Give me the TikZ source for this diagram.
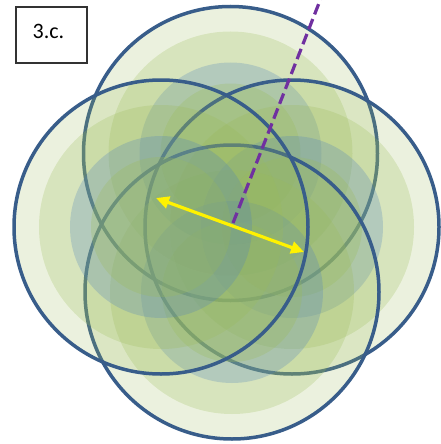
\documentclass[tikz,border=0pt]{standalone}
\usepackage{fontspec}
\newfontfamily\labelfont{Carlito}
\usetikzlibrary{arrows.meta}
\definecolor{ringgreen}{HTML}{9BBB59}
\definecolor{ringblue}{HTML}{4F81BD}
\definecolor{edgeblue}{HTML}{385D8A}
\definecolor{dashpurple}{HTML}{7030A0}
\tikzset{
  edge/.style={draw=edgeblue, line width=3.5pt},
  bandA/.style={fill=ringgreen, fill opacity=0.2},
  bandB/.style={fill=ringgreen, fill opacity=0.25},
  bandC/.style={fill=ringblue, fill opacity=0.26},
  bandD/.style={fill=ringgreen, fill opacity=0.28},
  spanarrow/.style={draw=yellow, line width=3.2pt, {Triangle[length=13pt,width=12pt]}-{Triangle[length=13pt,width=12pt]}},
  radialdash/.style={draw=dashpurple, line width=3.2pt, dash pattern=on 11pt off 5pt},
  tagbox/.style={draw=black!80, line width=1.2pt, minimum width=71pt, minimum height=56pt, inner sep=0pt},
}
\newcommand\bubble[2]{%
  \path[bandA] (#1,#2) circle[radius=147pt];
  \path[bandB] (#1,#2) circle[radius=122pt];
  \path[bandC] (#1,#2) circle[radius=91pt];
  \path[bandD] (#1,#2) circle[radius=70pt];
  \path[edge] (#1,#2) circle[radius=147pt];
}
\begin{document}
\begin{tikzpicture}[x=1pt,y=-1pt]
\useasboundingbox (0,0) rectangle (441,444);
\bubble{230.5}{153.5}
\bubble{292}{227}
\bubble{232}{292}
\bubble{161}{227}
\coordinate (hub) at (233,223);
\coordinate (topend) at (321,-2);
\coordinate (arrL) at (156,198);
\coordinate (arrR) at (304,252);
\path[radialdash] (hub) -- (topend);
\path[spanarrow] (arrL) -- (arrR);
\node[tagbox] (tag) at (51.5,35) {};
\node[font=\labelfont\fontsize{22}{26}\selectfont, inner sep=0pt] (tagtext) at (48.5,31) {3.c.};
\end{tikzpicture}
\end{document}
